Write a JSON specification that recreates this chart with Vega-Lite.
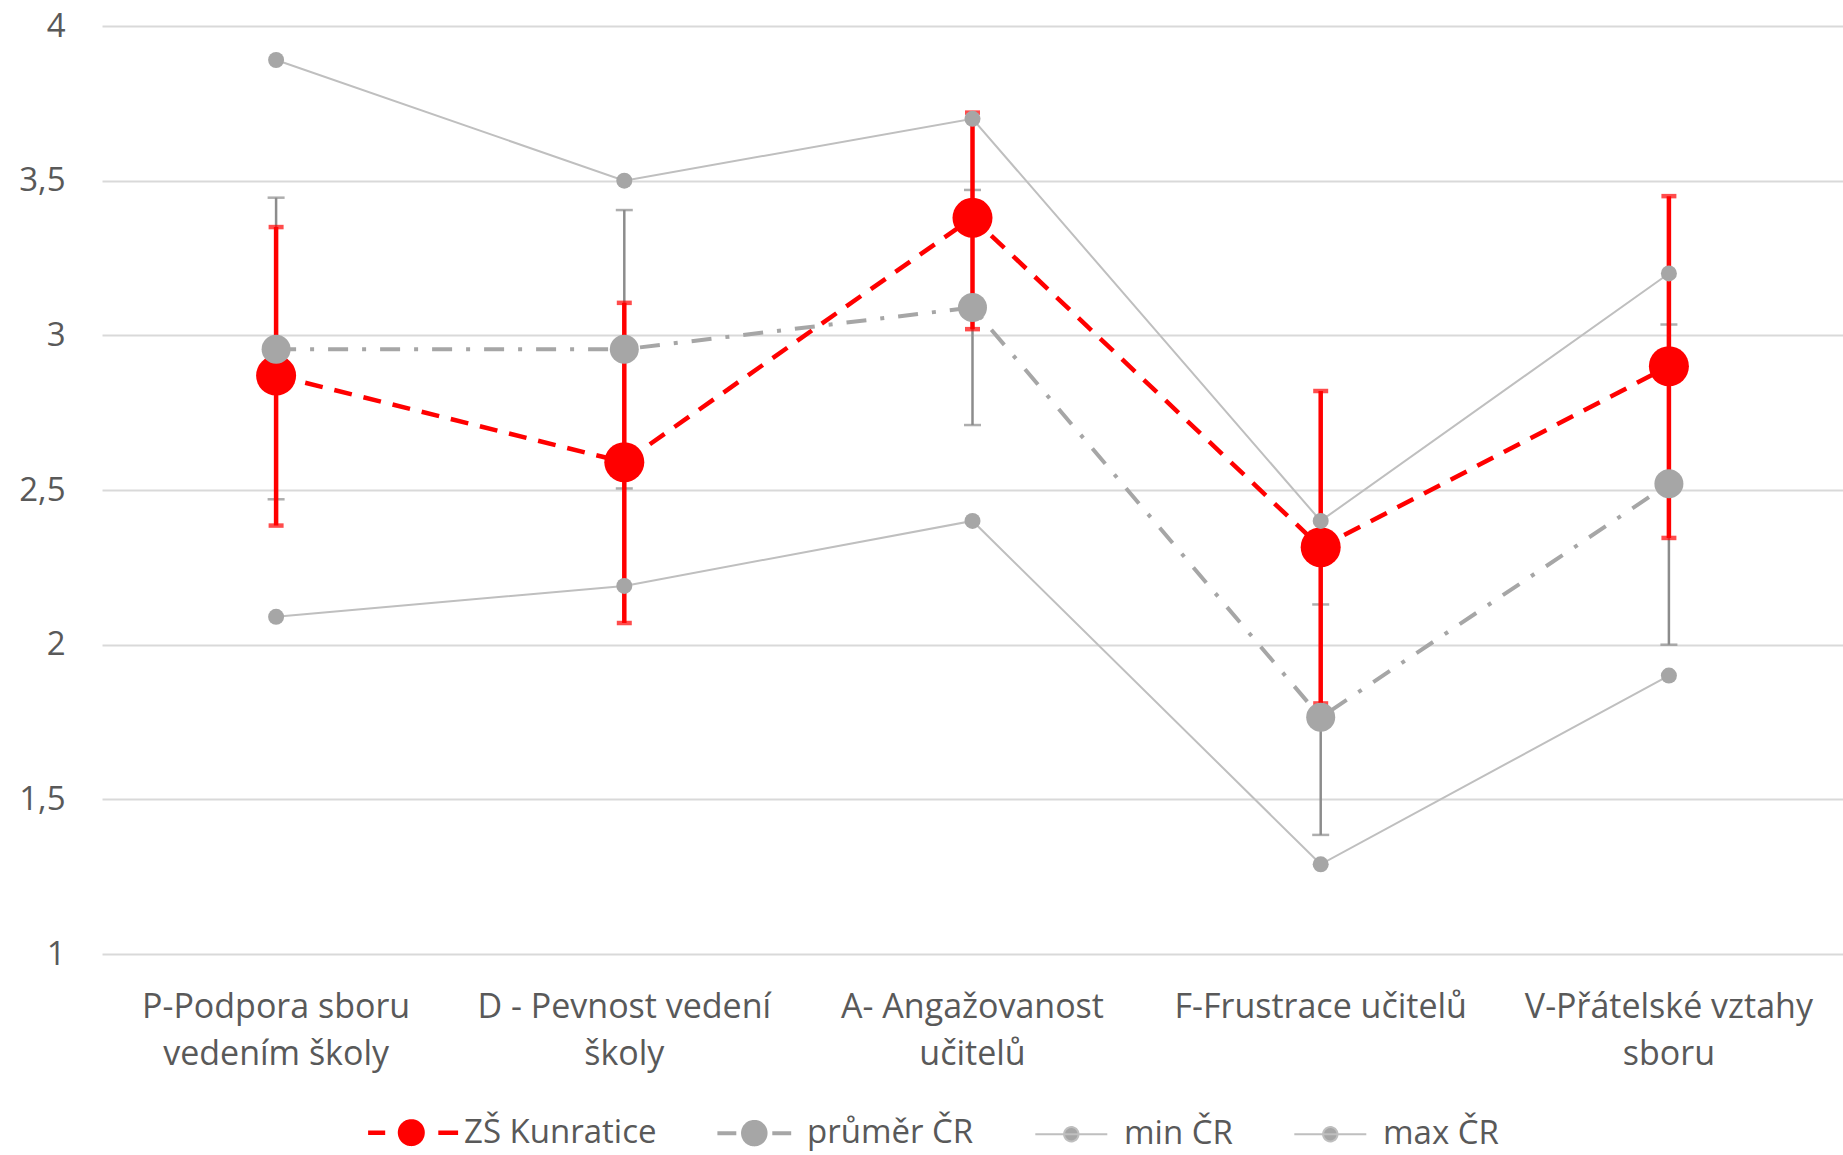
{
  "$schema": "https://vega.github.io/schema/vega-lite/v6.json",
  "width": 1741,
  "height": 928,
  "autosize": {"type": "none"},
  "padding": {"left": 102, "right": 0, "top": 26, "bottom": 201},
  "background": "white",
  "config": {"view": {"stroke": null}, "font": "Open Sans"},
  "data": {
    "values": [
      {"cat": "P-Podpora sboru vedením školy", "series": "ZŠ Kunratice", "value": 2.87, "lo": 2.385, "hi": 3.35},
      {"cat": "D - Pevnost vedení školy", "series": "ZŠ Kunratice", "value": 2.59, "lo": 2.07, "hi": 3.105},
      {"cat": "A- Angažovanost učitelů", "series": "ZŠ Kunratice", "value": 3.38, "lo": 3.02, "hi": 3.72},
      {"cat": "F-Frustrace učitelů", "series": "ZŠ Kunratice", "value": 2.315, "lo": 1.81, "hi": 2.82},
      {"cat": "V-Přátelské vztahy sboru", "series": "ZŠ Kunratice", "value": 2.9, "lo": 2.345, "hi": 3.45},
      {"cat": "P-Podpora sboru vedením školy", "series": "průměr ČR", "value": 2.955, "lo": 2.47, "hi": 3.445},
      {"cat": "D - Pevnost vedení školy", "series": "průměr ČR", "value": 2.955, "lo": 2.505, "hi": 3.405},
      {"cat": "A- Angažovanost učitelů", "series": "průměr ČR", "value": 3.09, "lo": 2.71, "hi": 3.47},
      {"cat": "F-Frustrace učitelů", "series": "průměr ČR", "value": 1.765, "lo": 1.385, "hi": 2.13},
      {"cat": "V-Přátelské vztahy sboru", "series": "průměr ČR", "value": 2.52, "lo": 2.0, "hi": 3.035},
      {"cat": "P-Podpora sboru vedením školy", "series": "min ČR", "value": 2.09},
      {"cat": "D - Pevnost vedení školy", "series": "min ČR", "value": 2.19},
      {"cat": "A- Angažovanost učitelů", "series": "min ČR", "value": 2.4},
      {"cat": "F-Frustrace učitelů", "series": "min ČR", "value": 1.29},
      {"cat": "V-Přátelské vztahy sboru", "series": "min ČR", "value": 1.9},
      {"cat": "P-Podpora sboru vedením školy", "series": "max ČR", "value": 3.89},
      {"cat": "D - Pevnost vedení školy", "series": "max ČR", "value": 3.5},
      {"cat": "A- Angažovanost učitelů", "series": "max ČR", "value": 3.7},
      {"cat": "F-Frustrace učitelů", "series": "max ČR", "value": 2.4},
      {"cat": "V-Přátelské vztahy sboru", "series": "max ČR", "value": 3.2}
    ]
  },
  "encoding": {
    "x": {
      "field": "cat",
      "type": "nominal",
      "sort": ["P-Podpora sboru vedením školy", "D - Pevnost vedení školy", "A- Angažovanost učitelů", "F-Frustrace učitelů", "V-Přátelské vztahy sboru"],
      "scale": {"type": "band", "paddingInner": 0, "paddingOuter": 0},
      "axis": {
        "title": null,
        "domain": false,
        "ticks": false,
        "grid": false,
        "labelAngle": 0,
        "labelFontSize": 34,
        "labelColor": "#595959",
        "labelPadding": 36,
        "labelLineHeight": 47,
        "labelLimit": 500,
        "labelOverlap": false,
        "labelBound": false,
        "labelFlush": false,
        "labelExpr": "datum.label === 'P-Podpora sboru vedením školy' ? ['P-Podpora sboru', 'vedením školy'] : datum.label === 'D - Pevnost vedení školy' ? ['D - Pevnost vedení', 'školy'] : datum.label === 'A- Angažovanost učitelů' ? ['A- Angažovanost', 'učitelů'] : datum.label === 'V-Přátelské vztahy sboru' ? ['V-Přátelské vztahy', 'sboru'] : datum.label"
      }
    },
    "y": {
      "field": "value",
      "type": "quantitative",
      "scale": {"domain": [1, 4], "nice": false, "zero": false},
      "axis": {
        "title": null,
        "domain": false,
        "ticks": false,
        "grid": true,
        "gridColor": "#d9d9d9",
        "gridWidth": 1.8,
        "values": [1, 1.5, 2, 2.5, 3, 3.5, 4],
        "labelFontSize": 33,
        "labelColor": "#595959",
        "labelPadding": 37,
        "labelExpr": "replace(format(datum.value, '~g'), '.', ',')"
      }
    }
  },
  "layer": [
    {
      "transform": [{"filter": "datum.series === 'průměr ČR'"}],
      "mark": {"type": "rule", "color": "#8c8c8c", "strokeWidth": 2.5},
      "encoding": {"y": {"field": "lo", "type": "quantitative"}, "y2": {"field": "hi"}}
    },
    {
      "transform": [{"filter": "datum.series === 'průměr ČR'"}],
      "mark": {"type": "tick", "color": "#8c8c8c", "size": 17, "thickness": 2.5},
      "encoding": {"y": {"field": "lo", "type": "quantitative"}}
    },
    {
      "transform": [{"filter": "datum.series === 'průměr ČR'"}],
      "mark": {"type": "tick", "color": "#8c8c8c", "size": 17, "thickness": 2.5},
      "encoding": {"y": {"field": "hi", "type": "quantitative"}}
    },
    {
      "transform": [{"filter": "datum.series === 'ZŠ Kunratice'"}],
      "mark": {"type": "rule", "color": "#ff0000", "strokeWidth": 4.5},
      "encoding": {"y": {"field": "lo", "type": "quantitative"}, "y2": {"field": "hi"}}
    },
    {
      "transform": [{"filter": "datum.series === 'ZŠ Kunratice'"}],
      "mark": {"type": "tick", "color": "#ff0000", "size": 15, "thickness": 4.5},
      "encoding": {"y": {"field": "lo", "type": "quantitative"}}
    },
    {
      "transform": [{"filter": "datum.series === 'ZŠ Kunratice'"}],
      "mark": {"type": "tick", "color": "#ff0000", "size": 15, "thickness": 4.5},
      "encoding": {"y": {"field": "hi", "type": "quantitative"}}
    },
    {
      "transform": [{"filter": "datum.series === 'ZŠ Kunratice'"}],
      "mark": {"type": "line", "strokeWidth": 4.5, "strokeDash": [18, 12], "strokeCap": "butt"},
      "encoding": {
        "color": {
          "field": "series",
          "type": "nominal",
          "scale": {"domain": ["ZŠ Kunratice", "průměr ČR", "min ČR", "max ČR"], "range": ["#ff0000", "#a6a6a6", "#bfbfbf", "#bfbfbf"]},
          "legend": {
            "orient": "none",
            "legendX": 264,
            "legendY": 1090,
            "direction": "horizontal",
            "columns": 4,
            "title": null,
            "labelFontSize": 33,
            "labelColor": "#595959",
            "labelLimit": 400,
            "symbolSize": 8100,
            "labelOffset": 65,
            "columnPadding": 52,
            "encode": {
              "symbols": {
                "update": {
                  "shape": {"signal": "datum.value === 'ZŠ Kunratice' ? 'M-0.32,0H0.06M1.24,0H1.68M0.39,0A0.25,0.25,0,1,0,0.89,0A0.25,0.25,0,1,0,0.39,0Z' : datum.value === 'průměr ČR' ? 'M-0.18,0H0.24M1.04,0H1.46M0.39,0A0.25,0.25,0,1,0,0.89,0A0.25,0.25,0,1,0,0.39,0Z' : 'M-0.16,0H1.44M0.48,0A0.16,0.16,0,1,0,0.8,0A0.16,0.16,0,1,0,0.48,0Z'"},
                  "fill": {"signal": "datum.value === 'ZŠ Kunratice' ? '#ff0000' : '#a6a6a6'"},
                  "fillOpacity": {"value": 1},
                  "stroke": {"signal": "datum.value === 'ZŠ Kunratice' ? '#ff0000' : datum.value === 'průměr ČR' ? '#a6a6a6' : '#bfbfbf'"},
                  "strokeWidth": {"signal": "datum.value === 'ZŠ Kunratice' ? 4.5 : datum.value === 'průměr ČR' ? 4 : 2"},
                  "strokeDash": {"value": [1, 0]},
                  "opacity": {"value": 1}
                }
              }
            }
          }
        }
      }
    },
    {
      "transform": [{"filter": "datum.series === 'ZŠ Kunratice'"}],
      "mark": {"type": "point", "filled": true, "shape": "circle", "size": 1600, "color": "#ff0000", "opacity": 1},
      "encoding": {}
    },
    {
      "transform": [{"filter": "datum.series === 'průměr ČR'"}],
      "mark": {"type": "line", "strokeWidth": 4, "strokeDash": [20, 14, 4, 14], "strokeCap": "butt"},
      "encoding": {"color": {"field": "series", "type": "nominal"}}
    },
    {
      "transform": [{"filter": "datum.series === 'průměr ČR'"}],
      "mark": {"type": "point", "filled": true, "shape": "circle", "size": 841, "color": "#a6a6a6", "opacity": 1},
      "encoding": {}
    },
    {
      "transform": [{"filter": "datum.series === 'min ČR'"}],
      "mark": {"type": "line", "strokeWidth": 2},
      "encoding": {"color": {"field": "series", "type": "nominal"}}
    },
    {
      "transform": [{"filter": "datum.series === 'max ČR'"}],
      "mark": {"type": "line", "strokeWidth": 2},
      "encoding": {"color": {"field": "series", "type": "nominal"}}
    },
    {
      "transform": [{"filter": "datum.series === 'min ČR' || datum.series === 'max ČR'"}],
      "mark": {"type": "point", "filled": true, "shape": "circle", "size": 256, "color": "#a6a6a6", "opacity": 1},
      "encoding": {}
    }
  ]
}
